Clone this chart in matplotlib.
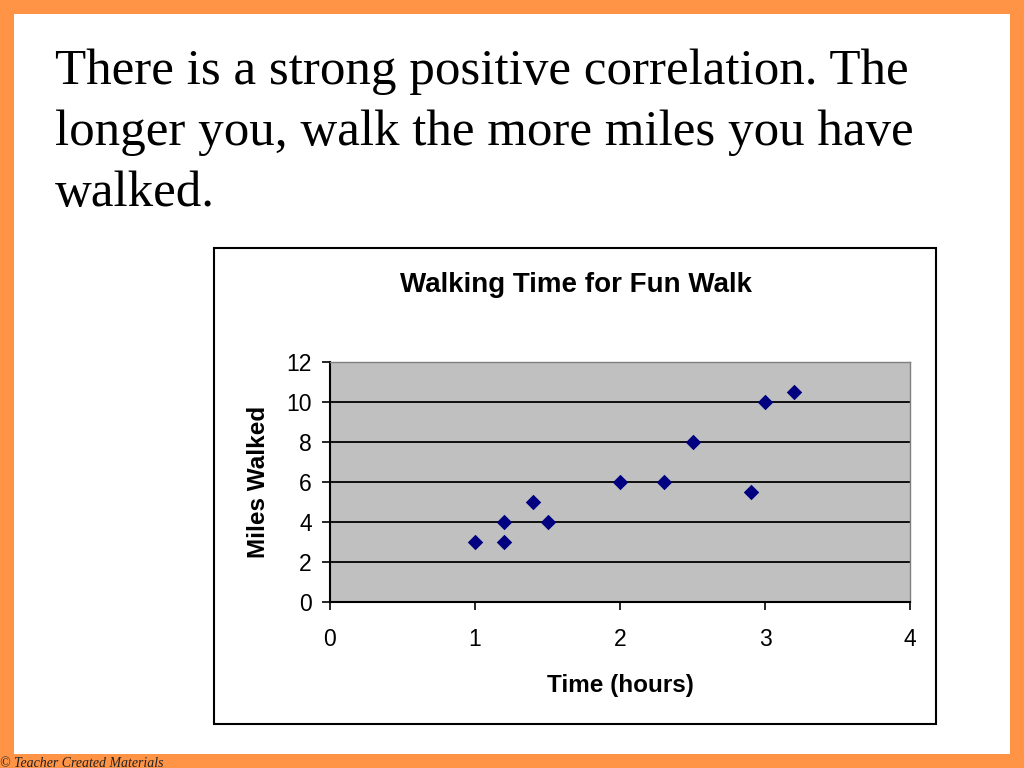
import matplotlib.pyplot as plt
from matplotlib.patches import Rectangle

# data
hours = [1.0, 1.2, 1.2, 1.4, 1.5, 2.0, 2.3, 2.5, 2.9, 3.0, 3.2]
miles = [3, 3, 4, 5, 4, 6, 6, 8, 5.5, 10, 10.5]
x_ticks = [0, 1, 2, 3, 4]
y_ticks = [0, 2, 4, 6, 8, 10, 12]

slide_lines = ["There is a strong positive correlation. The",
               "longer you, walk the more miles you have",
               "walked."]

W, H = 1024, 768
fig = plt.figure(figsize=(W / 100, H / 100), dpi=100)
fig.patch.set_facecolor('#FF9446')

# white slide
fig.patches.append(Rectangle((14 / W, 1 - 754 / H), 996 / W, 740 / H,
                             transform=fig.transFigure, facecolor='white',
                             edgecolor='none', zorder=-3))
# chart frame
fig.patches.append(Rectangle((214 / W, 1 - 724 / H), 722 / W, 476 / H,
                             transform=fig.transFigure, facecolor='white',
                             edgecolor='black', linewidth=1.5, zorder=-2))

for i, line in enumerate(slide_lines):
    fig.text(55 / W, 1 - (84 + 61 * i) / H, line, family='Liberation Serif',
             fontsize=36.7, va='baseline', ha='left')

fig.text(0, 1 - 757 / H, '© Teacher Created Materials', family='Liberation Serif',
         style='italic', fontsize=10, va='top', ha='left', color='#222222')

# chart title, centred in the chart frame
fig.text(576 / W, 1 - 285 / H, 'Walking Time for Fun Walk', family='Liberation Sans',
         fontweight='bold', fontsize=20, ha='center', va='center')

ax = fig.add_axes([330 / W, 1 - 602 / H, 580 / W, 240 / H])
ax.set_facecolor('#C0C0C0')
ax.scatter(hours, miles, marker='D', s=62, color='#000080', zorder=3, linewidths=0)

ax.set_xlim(0, 4)
ax.set_ylim(0, 12)
ax.set_xticks(x_ticks)
ax.set_yticks(y_ticks)
ax.yaxis.grid(True, color='black', linewidth=1.3)
ax.set_axisbelow(True)

for s in ['top', 'right']:
    ax.spines[s].set_color('#808080')
    ax.spines[s].set_linewidth(1.0)
for s in ['left', 'bottom']:
    ax.spines[s].set_color('black')
    ax.spines[s].set_linewidth(1.5)

ax.tick_params(direction='out', length=6, width=1.2, colors='black')
ax.tick_params(axis='x', pad=13)
ax.tick_params(axis='y', pad=7)
for lab in ax.get_xticklabels() + ax.get_yticklabels():
    lab.set_family('Liberation Sans')
    lab.set_fontsize(16.5)

ax.set_xlabel('Time (hours)', family='Liberation Sans', fontweight='bold',
              fontsize=17.5, labelpad=16)
ax.set_ylabel('Miles Walked', family='Liberation Sans', fontweight='bold',
              fontsize=17.5, labelpad=12)

fig.savefig('out.png', dpi=100, facecolor=fig.get_facecolor())
